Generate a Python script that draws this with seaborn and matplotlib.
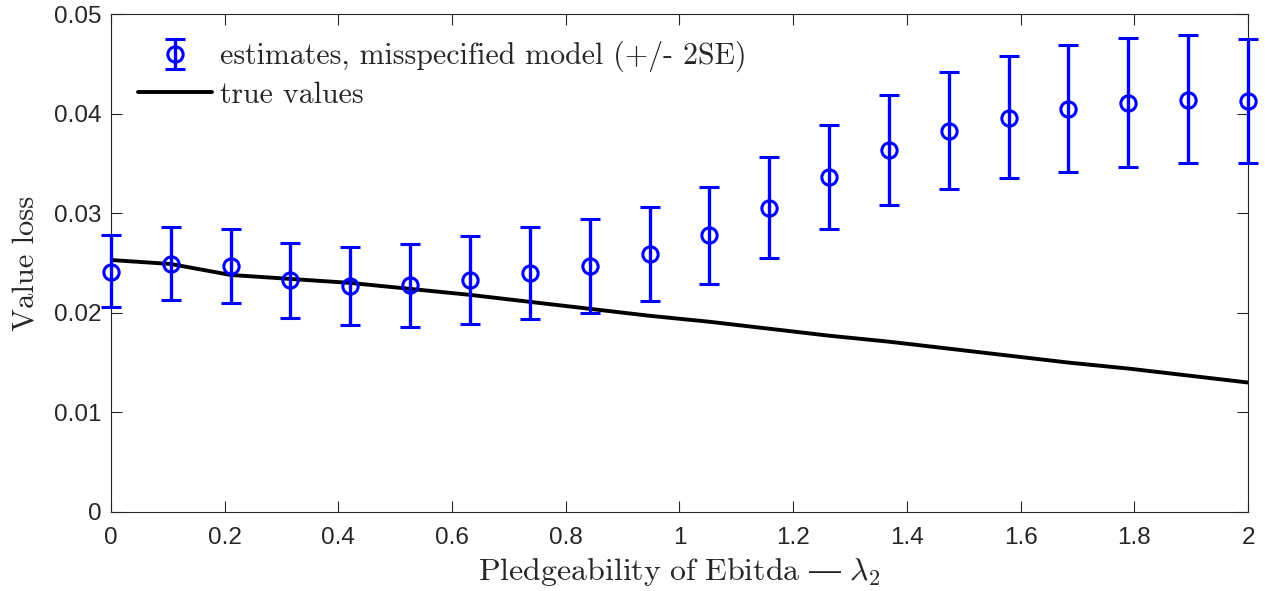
import numpy as np
import pandas as pd
import matplotlib
matplotlib.use("Agg")
import matplotlib.pyplot as plt
import seaborn as sns

# ---- data ----
lam2 = [0.0, 0.1053, 0.2105, 0.3158, 0.4211, 0.5263, 0.6316, 0.7368, 0.8421, 0.9474,
        1.0526, 1.1579, 1.2632, 1.3684, 1.4737, 1.5789, 1.6842, 1.7895, 1.8947, 2.0]
est = [0.0241, 0.0249, 0.0247, 0.0233, 0.0227, 0.0228, 0.0233, 0.0240, 0.0247, 0.0259,
       0.0278, 0.0305, 0.0336, 0.0363, 0.0383, 0.0396, 0.0405, 0.0411, 0.0414, 0.0413]
est_hi = [0.0278, 0.0286, 0.0284, 0.0270, 0.0266, 0.0269, 0.0277, 0.0286, 0.0294, 0.0306,
          0.0326, 0.0356, 0.0389, 0.0419, 0.0442, 0.0458, 0.0469, 0.0476, 0.0479, 0.0475]
est_lo = [0.0206, 0.0213, 0.0210, 0.0195, 0.0188, 0.0186, 0.0189, 0.0194, 0.0200, 0.0212,
          0.0229, 0.0255, 0.0284, 0.0308, 0.0324, 0.0335, 0.0341, 0.0346, 0.0350, 0.0350]
true_vals = [0.0253, 0.0249, 0.0238, 0.0234, 0.0230, 0.0224, 0.0218, 0.0211, 0.0204, 0.0197,
             0.0191, 0.0184, 0.0177, 0.0171, 0.0164, 0.0157, 0.0150, 0.0144, 0.0137, 0.0130]
xticks = [0, 0.2, 0.4, 0.6, 0.8, 1, 1.2, 1.4, 1.6, 1.8, 2]
xticklabels = ["0", "0.2", "0.4", "0.6", "0.8", "1", "1.2", "1.4", "1.6", "1.8", "2"]
yticks = [0, 0.01, 0.02, 0.03, 0.04, 0.05]
yticklabels = ["0", "0.01", "0.02", "0.03", "0.04", "0.05"]

df = pd.DataFrame({"lam2": lam2, "est": est, "hi": est_hi, "lo": est_lo, "true": true_vals})

sns.set_style("white")
plt.rcParams["mathtext.fontset"] = "cm"
plt.rcParams["axes.unicode_minus"] = False

fig = plt.figure(figsize=(12.65, 5.91), dpi=100)
ax = fig.add_axes([0.0877, 0.1337, 0.8989, 0.8426])

yerr = np.vstack([df["est"] - df["lo"], df["hi"] - df["est"]])
eb = ax.errorbar(df["lam2"], df["est"], yerr=yerr, fmt="o", color="#0000ff",
                 markerfacecolor="none", markersize=11, markeredgewidth=2.2,
                 elinewidth=2.4, capsize=7, capthick=2.4,
                 label="estimates, misspecified model (+/- 2SE)", zorder=3)
for art in eb.lines[1] + eb.lines[2]:
    art.set_clip_on(False)
eb.lines[0].set_clip_on(False)
sns.lineplot(data=df, x="lam2", y="true", color="black", linewidth=2.8,
             label="true values", ax=ax, zorder=2)

ax.set_xlim(0, 2)
ax.set_ylim(0, 0.05)
ax.set_xticks(xticks)
ax.set_xticklabels(xticklabels)
ax.set_yticks(yticks)
ax.set_yticklabels(yticklabels)

tick_font = "Liberation Sans"
for lab in ax.get_xticklabels() + ax.get_yticklabels():
    lab.set_fontfamily(tick_font)
    lab.set_fontsize(17.5)
    lab.set_color("#262626")

ax.tick_params(axis="both", which="both", direction="in", length=8, width=0.8,
               color="#262626", top=True, right=True, bottom=True, left=True)
ax.tick_params(axis="x", pad=11)
ax.tick_params(axis="y", pad=7)
for s in ax.spines.values():
    s.set_visible(True)
    s.set_color("#262626")
    s.set_linewidth(0.8)

serif = ["cmr10", "DejaVu Serif"]
ax.set_xlabel("$\\mathrm{Pledgeability\\ of\\ Ebitda}\\ \\mathrm{—}\\ \\lambda_2$", fontsize=23,
              color="#262626", labelpad=5)
ax.set_ylabel("Value loss", fontsize=22, fontfamily=serif, color="#262626", labelpad=10)

handles, labels = ax.get_legend_handles_labels()
order = [labels.index("estimates, misspecified model (+/- 2SE)"), labels.index("true values")]
leg = ax.legend([handles[i] for i in order], [labels[i] for i in order],
                loc="upper left", frameon=False, prop={"family": serif, "size": 21.5},
                bbox_to_anchor=(0.0, 1.0), handlelength=2.5, handletextpad=0.25,
                borderaxespad=0.5, labelspacing=0.3)

fig.savefig("out.png", dpi=100)
